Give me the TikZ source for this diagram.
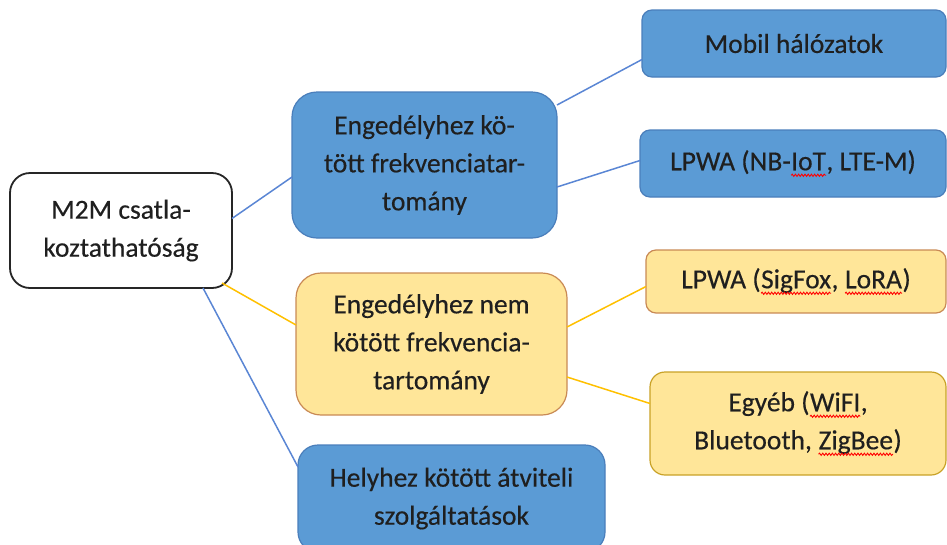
\documentclass[tikz,border=0pt]{standalone}
\usepackage{fontspec}
\setmainfont{Carlito}[FakeBold=0.35]
\usetikzlibrary{decorations.pathmorphing}
\definecolor{bfill}{HTML}{5B9BD5}
\definecolor{bdraw}{HTML}{4A7EBB}
\definecolor{yfill}{HTML}{FFE699}
\definecolor{ydraw}{HTML}{C98A55}
\definecolor{gdraw}{HTML}{C9A227}
\definecolor{bline}{HTML}{5A86D4}
\definecolor{yline}{HTML}{FFC000}
\newcommand\spellerr[1]{\tikz[baseline=(sw.base)]{\node[shape=rectangle,inner sep=0pt,outer sep=0pt,draw=none,fill=none,minimum width=0pt,minimum height=0pt,rounded corners=0pt](sw){#1};\draw[red,line width=0.9pt,fill=none,rounded corners=0pt,decorate,decoration={snake,amplitude=1.1pt,segment length=3.2pt}] ([yshift=-5pt]sw.base west)--([yshift=-5pt]sw.base east);}}
\tikzset{
  txt/.style={font=\fontsize{27.5}{38}\selectfont, align=center, inner sep=0pt, outer sep=0pt, text=black!88},
  rootbox/.style={txt, draw=black!85, line width=1.8pt, fill=white, rounded corners=20pt},
  bluebox/.style={txt, draw=bdraw, line width=1.2pt, fill=bfill},
  yelbox/.style={txt, draw=ydraw, line width=1.2pt, fill=yfill},
  blink/.style={draw=bline, line width=1.5pt},
  ylink/.style={draw=yline, line width=1.5pt},
}
\begin{document}
\begin{tikzpicture}[x=1pt,y=-1pt]
\useasboundingbox (0,0) rectangle (947,544);
\clip (0,0) rectangle (947,544);
\node[rootbox, minimum width=222pt, minimum height=115pt] (root) at (121,230.5) {M2M csatla-\\koztathatóság};
\node[bluebox, rounded corners=25pt, minimum width=265pt, minimum height=146pt] (b1) at (424.5,165) {Engedélyhez kö-\\tött frekvenciatar-\\tomány};
\node[bluebox, rounded corners=10pt, minimum width=304pt, minimum height=67pt] (m1) at (794,43.5) {Mobil hálózatok};
\node[bluebox, rounded corners=10pt, minimum width=306pt, minimum height=67pt] (m2) at (793,163.5) {LPWA (NB-\spellerr{IoT}, LTE-M)};
\node[yelbox, rounded corners=25pt, minimum width=271pt, minimum height=142pt] (y1) at (431.5,344) {Engedélyhez nem\\kötött frekvencia-\\tartomány};
\node[yelbox, rounded corners=10pt, minimum width=300pt, minimum height=63pt] (s1) at (796,281.5) {LPWA (\spellerr{SigFox}, \spellerr{LoRA})};
\node[yelbox, draw=gdraw, rounded corners=15pt, minimum width=296pt, minimum height=103pt] (s2) at (798,423.5) {Egyéb (\spellerr{WiFI},\\Bluetooth, \spellerr{ZigBee})};
\node[bluebox, rounded corners=20pt, minimum width=307pt, minimum height=107pt] (h1) at (451.5,498.5) {Helyhez kötött átviteli\\szolgáltatások};
\draw[blink] ([yshift=12pt]root.east) -- ([yshift=-12pt]b1.west);
\draw[ylink] ([xshift=-10pt,yshift=5pt]root.south east) -- ([yshift=19pt]y1.west);
\draw[blink] ([xshift=-29pt]root.south east) -- ([yshift=-22pt]h1.north west);
\draw[blink] ([yshift=60pt]b1.east) -- ([yshift=-16pt]m1.west);
\draw[blink] ([yshift=-22pt]b1.east) -- ([yshift=3pt]m2.west);
\draw[ylink] ([yshift=17pt]y1.east) -- ([yshift=-5pt]s1.west);
\draw[ylink] ([yshift=-33pt]y1.east) -- ([yshift=20pt]s2.west);
\end{tikzpicture}
\end{document}
